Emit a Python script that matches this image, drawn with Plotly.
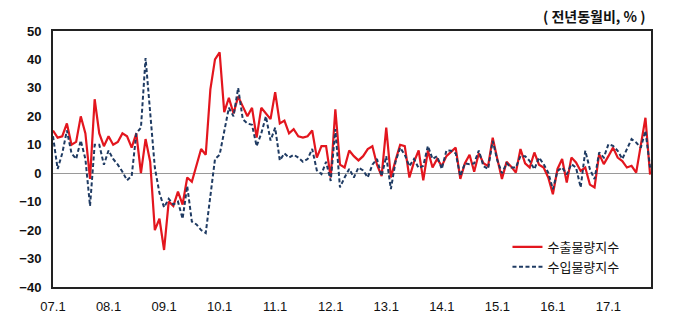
import plotly.graph_objects as go

tick_labels = ["07.1", "08.1", "09.1", "10.1", "11.1", "12.1", "13.1", "14.1", "15.1", "16.1", "17.1"]

export_vol = [15, 12.5, 13, 17.5, 10, 11, 20, 14, -2, 26, 14, 9.5,
              13, 10, 11, 14, 13, 9, 14, 0, 12, 4, -20, -16,
              -27, -10, -11.5, -6.5, -11, -1.5, -3, 2.5, 8.5, 6.5, 29.5, 40,
              42.5, 21.5, 26.5, 21, 27, 23.5, 20, 23, 12.5, 23, 21, 19,
              28.5, 17.5, 18.5, 14, 15.5, 13, 12.5, 13, 15, 5.5, 9.5, 9.5,
              -1.5, 22.5, 3, 2, 8, 6, 4.5, 6, 8.5, 9.5, 3, -1,
              16, -1.5, 4.5, 10, 9.5, -1.5, 4, 8, -2.5, 8, 2, 5,
              2.5, 6, 7.5, 9, -2, 3.5, 6.5, 0.5, 7, 3.5, 2.5, 12.5,
              5, -2, 4, 2.3, 0.2, 8.5, 3.5, 2, 7.3, 3, 2, -1.5,
              -7.4, 1.5, 5, -3.3, 5.5, 3.8, 0.8, 2, -4, -5, 6.7, 3.2,
              6, 9, 5.5, 4.3, 2, 2.6, 0.2, 9.5, 19.5, -0.5]

import_vol = [13, 1.5, 7, 15, 7, 5, 11.5, 5, -11.5, 10, 10, 3,
              8, 5, 3, 0.5, -2.5, -1, 14, 16, 40.5, 20, 2, -7,
              -12, -9, -11, -10, -16, -4.5, -17, -18, -20, -21, -8, 5,
              6.5, 15, 23, 20, 30, 19, 17.5, 17, 9.5, 14, 20, 11.5,
              16, 4.5, 7, 5.5, 6.5, 5.5, 4, 5, 8.5, 1, -0.3, 4,
              -2.7, 15.5, -5, -1.5, 1.5, -1.5, 2, 1, -1.5, 3, 5, -1,
              6, -5.6, 4, 9, 6.5, 2.5, 5, 1.8, 2.6, 9.6, 5, 6,
              1.5, 8, 7.9, 7, -1, 3.5, 3.2, 3.5, 8, 2.5, 1.5, 11.4,
              4.5, 0, 3.5, 2, 2, 6, 6, 4.3, 1.4, 5.5, 3.2, 0.2,
              -5.6, 0.8, 2, -0.4, 3.2, 2, -5, 7.9, 1.4, -2.1, 7.3, 5.5,
              10.2, 9.6, 7.9, 5, 8.5, 12, 10.8, 9, 14.9, 2]

months = list(range(len(export_vol)))
tick_vals = [12 * i for i in range(len(tick_labels))]

fig = go.Figure()
fig.add_trace(go.Scatter(
    x=months, y=export_vol, mode="lines", name="수출물량지수",
    line=dict(color="#e3161e", width=2.2)))
fig.add_trace(go.Scatter(
    x=months, y=import_vol, mode="lines", name="수입물량지수",
    line=dict(color="#1f3b63", width=2, dash="4px,2.5px")))

fig.update_layout(
    width=690, height=331,
    margin=dict(l=53, r=39, t=31, b=44),
    paper_bgcolor="white", plot_bgcolor="white",
    showlegend=True,
    legend=dict(x=0.76, y=0.215, xanchor="left", yanchor="top",
                bgcolor="rgba(0,0,0,0)",
                font=dict(family="Noto Sans CJK KR", size=13, color="#111"),
                tracegroupgap=0, itemwidth=30),
    annotations=[dict(text="( 전년동월비, % )", xref="paper", yref="paper",
                      x=0.995, y=1, xanchor="right", yanchor="bottom", yshift=3,
                      showarrow=False,
                      font=dict(family="Noto Sans CJK KR", size=14, color="#111", weight="bold"))],
)
fig.update_xaxes(
    range=[0, 129.2], tickvals=tick_vals, ticktext=tick_labels,
    showgrid=False, zeroline=False, ticks="", ticklabelstandoff=6,
    showline=True, linecolor="#222", linewidth=2, mirror=True,
    tickfont=dict(family="Liberation Sans Narrow, Liberation Sans", size=13, color="#111"))
fig.update_yaxes(
    range=[-40, 50], dtick=10, showgrid=False,
    zeroline=True, zerolinecolor="#9a9a9a", zerolinewidth=1,
    ticks="", ticklabelstandoff=7,
    showline=True, linecolor="#222", linewidth=2, mirror=True,
    tickfont=dict(family="Liberation Sans", size=13, color="#111", weight="bold"))

fig.write_html("out.html")
